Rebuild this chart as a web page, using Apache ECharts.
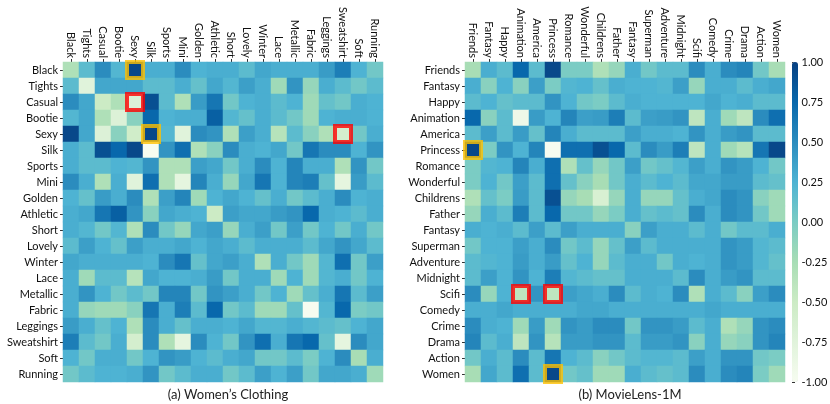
<!DOCTYPE html>
<html>
<head>
<meta charset="utf-8">
<title>Tag correlation heatmaps</title>
<script src="https://cdn.jsdelivr.net/npm/echarts@6/dist/echarts.min.js"></script>
<style>
  html, body { margin: 0; padding: 0; background: #fff; }
  #chart { width: 830px; height: 404px; }
</style>
</head>
<body>
<div id="chart"></div>
<script>
var clothingTags = ['Black', 'Tights', 'Casual', 'Bootie', 'Sexy', 'Silk', 'Sports', 'Mini', 'Golden', 'Athletic',
    'Short', 'Lovely', 'Winter', 'Lace', 'Metallic', 'Fabric', 'Leggings', 'Sweatshirt', 'Soft', 'Running'];

var movieTags = ['Friends', 'Fantasy', 'Happy', 'Animation', 'America', 'Princess', 'Romance', 'Wonderful', 'Childrens', 'Father',
    'Fantasy', 'Superman', 'Adventure', 'Midnight', 'Scifi', 'Comedy', 'Crime', 'Drama', 'Action', 'Women'];

// one row per tag (rows top to bottom, columns left to right)
var clothingValues = [
    [-0.3, 0.17, 0.5, 0.22, 0.95, 0.28, 0.28, 0.5, 0.25, 0.28, 0.28, 0.17, 0.33, 0.28, 0.28, 0.28, 0.4, 0.6, 0.25, 0.05],
    [0.17, -0.75, 0.33, 0.33, 0.33, 0.17, 0.17, 0.28, 0.12, 0.33, 0.22, 0.38, 0.28, -0.2, 0.45, -0.15, 0.28, 0.17, 0.05, 0.17],
    [0.5, 0.33, -0.5, -0.3, -0.7, 0.9, 0.17, -0.3, 0.4, 0.65, 0.05, 0.25, 0.28, 0.17, 0.25, -0.2, 0.12, 0.05, 0.28, 0.25],
    [0.22, 0.33, -0.3, -0.7, -0.08, 0.75, 0.25, 0.28, 0.28, 0.8, 0.22, 0.12, 0.28, 0.17, 0.05, -0.2, 0.25, 0.28, 0.28, 0.25],
    [0.95, 0.33, -0.7, -0.08, -0.55, 0.95, 0.22, -0.75, 0.5, 0.45, -0.3, 0.38, 0.28, -0.35, 0.17, -0.08, -0.3, -0.6, 0.05, 0.28],
    [0.28, 0.17, 0.9, 0.75, 0.95, -1.0, 0.45, 0.7, -0.3, -0.08, 0.5, 0.28, 0.25, 0.33, 0.05, 0.65, 0.5, 0.5, 0.25, 0.45],
    [0.28, 0.17, 0.17, 0.25, 0.22, 0.45, -0.3, -0.3, 0.38, 0.33, 0.05, 0.28, 0.5, 0.25, 0.55, 0.28, 0.28, -0.3, 0.45, 0.05],
    [0.5, 0.28, -0.3, 0.28, -0.75, 0.7, -0.3, -0.8, 0.55, 0.28, -0.15, 0.33, 0.65, 0.25, 0.55, 0.6, 0.12, -0.8, 0.4, 0.17],
    [0.25, 0.12, 0.4, 0.28, 0.5, -0.3, 0.38, 0.55, -0.2, 0.25, 0.33, 0.25, 0.12, 0.28, 0.05, 0.17, 0.28, 0.5, 0.25, 0.28],
    [0.28, 0.33, 0.65, 0.8, 0.45, -0.08, 0.33, 0.28, 0.25, -0.5, 0.38, 0.33, 0.33, 0.4, 0.45, 0.75, 0.28, 0.25, 0.17, 0.28],
    [0.28, 0.22, 0.05, 0.22, -0.3, 0.5, 0.05, -0.15, 0.33, 0.38, -0.15, 0.28, 0.38, 0.05, 0.38, 0.05, 0.25, 0.05, 0.28, 0.05],
    [0.17, 0.38, 0.25, 0.12, 0.38, 0.28, 0.28, 0.33, 0.25, 0.33, 0.28, 0.17, 0.28, 0.28, 0.28, 0.17, 0.33, 0.45, 0.33, 0.17],
    [0.33, 0.28, 0.28, 0.28, 0.28, 0.25, 0.5, 0.65, 0.12, 0.33, 0.38, 0.28, -0.3, 0.28, 0.05, -0.2, 0.22, 0.7, 0.05, 0.38],
    [0.28, -0.2, 0.17, 0.17, -0.35, 0.33, 0.25, 0.25, 0.28, 0.4, 0.05, 0.28, 0.28, -0.2, 0.25, -0.2, 0.22, 0.28, 0.05, 0.25],
    [0.28, 0.45, 0.25, 0.05, 0.17, 0.05, 0.55, 0.55, 0.05, 0.45, 0.38, 0.28, 0.05, 0.25, -0.2, 0.12, 0.28, 0.65, 0.17, 0.38],
    [0.28, -0.15, -0.2, -0.2, -0.08, 0.65, 0.28, 0.6, 0.17, 0.75, 0.05, 0.17, -0.2, -0.2, 0.12, -1.0, 0.22, 0.75, 0.0, 0.05],
    [0.4, 0.28, 0.12, 0.25, -0.3, 0.5, 0.28, 0.12, 0.28, 0.28, 0.25, 0.33, 0.22, 0.22, 0.28, 0.22, 0.17, 0.12, 0.25, 0.33],
    [0.6, 0.17, 0.05, 0.28, -0.6, 0.5, -0.3, -0.8, 0.5, 0.25, 0.05, 0.45, 0.7, 0.28, 0.65, 0.75, 0.12, -0.8, 0.5, 0.33],
    [0.25, 0.05, 0.28, 0.28, 0.05, 0.25, 0.45, 0.4, 0.25, 0.17, 0.28, 0.33, 0.05, 0.05, 0.17, 0.0, 0.25, 0.5, -0.25, 0.28],
    [0.05, 0.17, 0.25, 0.25, 0.28, 0.45, 0.05, 0.17, 0.28, 0.28, 0.05, 0.17, 0.38, 0.25, 0.38, 0.05, 0.33, 0.33, 0.28, -0.2]
];

var movieValues = [
    [-0.25, 0.28, 0.17, 0.75, 0.17, 0.95, 0.0, 0.0, -0.3, -0.15, 0.28, 0.05, 0.17, 0.17, 0.5, 0.28, 0.5, 0.55, 0.05, -0.25],
    [0.28, -0.08, 0.25, -0.08, 0.38, 0.0, 0.22, 0.25, 0.12, 0.28, 0.25, 0.25, 0.22, 0.38, -0.15, 0.28, 0.28, 0.17, 0.28, 0.33],
    [0.17, 0.25, 0.12, 0.17, 0.17, 0.45, 0.25, 0.05, 0.0, 0.17, 0.28, 0.25, 0.25, 0.25, 0.25, 0.33, 0.25, 0.28, 0.17, 0.17],
    [0.75, -0.08, 0.17, -0.9, 0.4, 0.25, 0.55, 0.38, 0.4, 0.6, 0.17, 0.38, 0.4, 0.45, -0.4, 0.28, -0.2, -0.4, 0.5, 0.7],
    [0.17, 0.38, 0.17, 0.4, 0.12, 0.55, 0.28, 0.17, 0.17, 0.17, 0.38, 0.28, 0.28, 0.25, 0.45, 0.28, 0.4, 0.45, 0.17, 0.17],
    [0.95, 0.0, 0.45, 0.25, 0.55, -1.0, 0.7, 0.7, 0.9, 0.75, 0.17, 0.5, 0.4, 0.6, -0.4, 0.28, -0.2, -0.35, 0.65, 0.95],
    [0.0, 0.22, 0.25, 0.55, 0.28, 0.7, -0.3, 0.12, -0.15, 0.05, 0.38, 0.05, 0.12, 0.22, 0.38, 0.28, 0.45, 0.4, 0.25, 0.05],
    [0.0, 0.25, 0.05, 0.38, 0.17, 0.7, 0.12, -0.08, -0.25, 0.05, 0.28, 0.17, 0.25, 0.17, 0.33, 0.33, 0.4, 0.4, 0.17, 0.12],
    [-0.3, 0.12, 0.0, 0.4, 0.17, 0.9, -0.15, -0.25, -0.65, -0.15, 0.28, -0.15, -0.15, 0.12, 0.28, 0.33, 0.5, 0.45, -0.08, -0.2],
    [-0.15, 0.28, 0.17, 0.6, 0.17, 0.75, 0.05, 0.05, -0.15, 0.0, 0.28, 0.12, 0.17, 0.12, 0.5, 0.28, 0.5, 0.45, 0.05, -0.2],
    [0.28, 0.25, 0.28, 0.17, 0.38, 0.17, 0.38, 0.28, 0.28, 0.28, -0.08, 0.38, 0.28, 0.28, 0.17, 0.28, 0.05, 0.17, 0.17, 0.28],
    [0.05, 0.25, 0.25, 0.38, 0.28, 0.5, 0.05, 0.17, -0.15, 0.12, 0.38, 0.17, 0.28, 0.28, 0.28, 0.28, 0.45, 0.4, 0.22, 0.17],
    [0.17, 0.22, 0.25, 0.4, 0.28, 0.4, 0.12, 0.25, -0.15, 0.17, 0.28, 0.28, 0.05, 0.28, 0.25, 0.28, 0.45, 0.4, 0.22, 0.12],
    [0.17, 0.38, 0.25, 0.45, 0.25, 0.6, 0.22, 0.17, 0.12, 0.12, 0.28, 0.28, 0.28, 0.17, 0.5, 0.28, 0.4, 0.45, 0.17, 0.17],
    [0.5, -0.15, 0.25, -0.4, 0.45, -0.4, 0.38, 0.33, 0.28, 0.5, 0.17, 0.28, 0.25, 0.5, -0.3, 0.28, 0.17, -0.08, 0.38, 0.5],
    [0.28, 0.28, 0.33, 0.28, 0.28, 0.28, 0.28, 0.33, 0.33, 0.28, 0.28, 0.28, 0.28, 0.28, 0.28, 0.33, 0.28, 0.28, 0.28, 0.28],
    [0.5, 0.28, 0.25, -0.2, 0.4, -0.2, 0.45, 0.4, 0.5, 0.5, 0.05, 0.45, 0.45, 0.4, 0.17, 0.28, -0.3, -0.15, 0.45, 0.5],
    [0.55, 0.17, 0.28, -0.4, 0.45, -0.35, 0.4, 0.4, 0.45, 0.45, 0.17, 0.4, 0.4, 0.45, -0.08, 0.28, -0.15, -0.08, 0.45, 0.55],
    [0.05, 0.28, 0.17, 0.5, 0.17, 0.65, 0.25, 0.17, -0.08, 0.05, 0.17, 0.22, 0.22, 0.17, 0.38, 0.28, 0.45, 0.45, 0.05, 0.0],
    [-0.25, 0.33, 0.17, 0.7, 0.17, 0.95, 0.05, 0.12, -0.2, -0.2, 0.28, 0.17, 0.12, 0.17, 0.5, 0.28, 0.5, 0.55, 0.0, -0.2]
];

// highlighted cells as [column, row]
var clothingGold = [[4, 0], [5, 4]];
var clothingRed = [[4, 2], [17, 4]];
var movieGold = [[0, 5], [5, 19]];
var movieRed = [[3, 14], [5, 14]];

var colorbarTicks = [-1, -0.75, -0.5, -0.25, 0, 0.25, 0.5, 0.75, 1];

var gnbu = ['#f7fcf0', '#e0f3db', '#ccebc5', '#a8ddb5', '#7bccc4', '#4eb3d3', '#2b8cbe', '#0868ac', '#084081'];
var font = 'Lato, "Noto Sans", sans-serif';

function toCells(rows) {
    var out = [];
    for (var r = 0; r < rows.length; r++) {
        for (var c = 0; c < rows[r].length; c++) {
            out.push([c, r, rows[r][c]]);
        }
    }
    return out;
}

function tagXAxis(grid, tags) {
    return {
        type: 'category', gridIndex: grid, data: tags, position: 'top',
        axisLine: {show: false},
        axisTick: {show: true, alignWithLabel: true, length: 3, lineStyle: {color: '#333'}},
        axisLabel: {rotate: 90, interval: 0, margin: 4, fontSize: 11, color: '#111', fontFamily: font},
        splitLine: {show: false}
    };
}

function tagYAxis(grid, tags) {
    return {
        type: 'category', gridIndex: grid, data: tags, inverse: true,
        axisLine: {show: false},
        axisTick: {show: true, alignWithLabel: true, length: 3, lineStyle: {color: '#333'}},
        axisLabel: {interval: 0, margin: 5, fontSize: 11, color: '#111', fontFamily: font},
        splitLine: {show: false}
    };
}

function boxes(grid, cells, color) {
    return {
        type: 'scatter', xAxisIndex: grid, yAxisIndex: grid, data: cells,
        symbol: 'rect', symbolSize: 16, silent: true, z: 5,
        itemStyle: {color: 'rgba(0,0,0,0)', borderColor: color, borderWidth: 4}
    };
}

var chart = echarts.init(document.getElementById('chart'));

chart.setOption({
    animation: false,
    backgroundColor: '#fff',
    title: [
        {text: '(a) Women\u2019s Clothing', left: 223, top: 383, textAlign: 'center',
            textStyle: {fontSize: 13, fontWeight: 'normal', color: '#222', fontFamily: font}},
        {text: '(b) MovieLens-1M', left: 625, top: 383, textAlign: 'center',
            textStyle: {fontSize: 13, fontWeight: 'normal', color: '#222', fontFamily: font}}
    ],
    grid: [
        {left: 63, top: 62, width: 320, height: 320},
        {left: 465, top: 62, width: 320, height: 320},
        {left: 792, top: 62, width: 6, height: 320}
    ],
    xAxis: [
        tagXAxis(0, clothingTags),
        tagXAxis(1, movieTags),
        {type: 'value', gridIndex: 2, show: false, min: 0, max: 1}
    ],
    yAxis: [
        tagYAxis(0, clothingTags),
        tagYAxis(1, movieTags),
        {
            type: 'value', gridIndex: 2, position: 'right', min: -1, max: 1, interval: 0.25,
            axisLine: {show: false},
            axisTick: {show: true, length: 3, lineStyle: {color: '#333'}},
            axisLabel: {margin: 8, fontSize: 11, color: '#111', fontFamily: font,
                formatter: function (v) { return v.toFixed(2); },
                customValues: colorbarTicks},
            splitLine: {show: false}
        }
    ],
    visualMap: {
        type: 'continuous', min: -1, max: 1, seriesIndex: [0, 1],
        orient: 'vertical', left: 792, top: 62, itemWidth: 6, itemHeight: 320,
        padding: 0, calculable: false, hoverLink: false, text: null, showLabel: false,
        inRange: {color: gnbu}
    },
    series: [
        {type: 'heatmap', xAxisIndex: 0, yAxisIndex: 0, data: toCells(clothingValues),
            itemStyle: {borderWidth: 0}, emphasis: {disabled: true}},
        {type: 'heatmap', xAxisIndex: 1, yAxisIndex: 1, data: toCells(movieValues),
            itemStyle: {borderWidth: 0}, emphasis: {disabled: true}},
        boxes(0, clothingGold, '#ffc000'),
        boxes(0, clothingRed, '#ff0000'),
        boxes(1, movieGold, '#ffc000'),
        boxes(1, movieRed, '#ff0000')
    ]
});
</script>
</body>
</html>
